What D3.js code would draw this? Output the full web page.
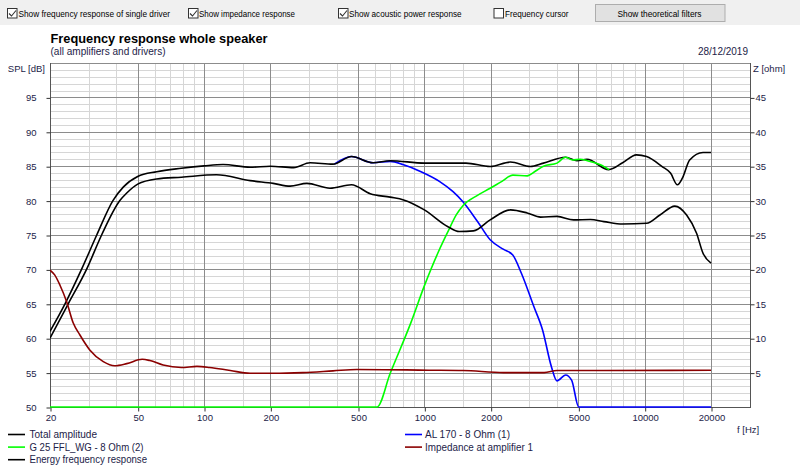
<!DOCTYPE html>
<html>
<head>
<meta charset="utf-8">
<script src="https://cdnjs.cloudflare.com/ajax/libs/d3/7.8.5/d3.min.js"></script>
<style>
  html, body { margin: 0; padding: 0; background: #ffffff; }
  svg { display: block; font-family: "Liberation Sans", Arial, sans-serif; }
</style>
</head>
<body>
<svg id="chart" width="800" height="468"></svg>
<script>
// ---------------- DATA ----------------
const xTickValues = [20, 50, 100, 200, 500, 1000, 2000, 5000, 10000, 20000];
const xMinorValues = [30, 40, 60, 70, 80, 90, 150, 300, 400, 600, 700, 800, 900, 1500, 3000, 4000, 6000, 7000, 8000, 9000, 15000];
const splTickValues = [50, 55, 60, 65, 70, 75, 80, 85, 90, 95];
const zTickValues = [5, 10, 15, 20, 25, 30, 35, 40, 45];

// Total amplitude (dB)
const totalFreq = [20, 23.4, 27.8, 32.6, 38.6, 43.1, 50, 61, 79, 100, 122, 162, 200, 255, 303, 385, 467, 585, 700, 1000, 1545, 1990, 2460, 3030, 3470, 4375, 4930, 5470, 6870, 7940, 9180, 10200, 12000, 13100, 14080, 14850, 16000, 18400, 20000];
const totalSpl  = [61.0, 65.0, 70.0, 75.0, 80.0, 82.0, 83.5, 84.2, 84.7, 85.05, 85.25, 84.85, 85.0, 84.8, 85.5, 85.3, 86.4, 85.5, 85.8, 85.45, 85.45, 84.95, 85.6, 84.95, 85.45, 86.3, 85.8, 86.0, 84.5, 85.5, 86.65, 86.4, 84.95, 84.0, 82.3, 83.3, 85.9, 87.0, 87.0];

// G 25 FFL_WG - 8 Ohm (2) (dB)
const tweeterFreq = [20, 610, 700, 870, 1000, 1160, 1280, 1400, 1500, 1750, 1990, 2250, 2520, 2930, 3200, 3470, 4000, 4375, 4700, 5100, 5500, 6300, 6900];
const tweeterSpl  = [50, 50, 54.9, 62.3, 67.6, 72.6, 75.5, 78.0, 79.3, 80.8, 81.8, 82.8, 83.7, 83.6, 84.3, 85.0, 85.45, 86.3, 85.9, 86.0, 85.8, 85.2, 84.5];

// Energy frequency response (dB)
const energyFreq = [20, 24.2, 29.3, 34.3, 41.5, 44.6, 50, 61, 79, 114, 162, 206, 246, 293, 373, 467, 568, 700, 805, 1000, 1280, 1440, 1670, 1990, 2460, 2930, 3370, 4000, 4760, 5670, 6530, 7940, 10200, 11730, 13700, 15500, 17200, 18400, 20000];
const energySpl  = [60.0, 65.0, 70.0, 75.0, 80.0, 81.1, 82.4, 83.15, 83.4, 83.75, 82.9, 82.5, 82.1, 82.5, 81.8, 82.3, 81.0, 80.5, 80.1, 78.65, 76.2, 75.5, 75.6, 77.2, 78.65, 78.2, 77.6, 77.7, 77.2, 77.25, 76.95, 76.6, 76.7, 77.9, 79.2, 77.9, 75.25, 72.35, 70.9];

// AL 170 - 8 Ohm (1) (dB)
const wooferFreq = [390, 467, 585, 700, 805, 966, 1170, 1350, 1500, 1740, 1990, 2290, 2520, 2760, 3140, 3440, 3770, 4000, 4380, 4660, 5020, 20000];
const wooferSpl  = [85.3, 86.4, 85.5, 85.7, 85.2, 84.2, 82.8, 81.3, 79.8, 77.0, 74.3, 72.9, 72.1, 69.4, 64.6, 61.2, 55.9, 53.8, 54.65, 53.9, 50.0, 50.0];

// Impedance at amplifier 1 (ohm)
const impFreq = [20, 21, 22.2, 23.8, 25.5, 27.3, 30.3, 34.9, 39.3, 44.6, 52.4, 56.8, 65.2, 78.9, 92.9, 106, 131.7, 162, 206, 281, 385, 494, 1050, 1500, 2290, 3500, 4000, 6500, 20000];
const impOhm  = [19.9, 19.2, 17.7, 15.3, 12.2, 10.5, 8.3, 6.6, 6.0, 6.3, 6.93, 6.75, 6.1, 5.75, 5.9, 5.75, 5.3, 4.9, 4.9, 5.0, 5.25, 5.45, 5.35, 5.3, 5.0, 5.0, 5.3, 5.3, 5.35];

const legendLeft = ["Total amplitude", "G 25 FFL_WG - 8 Ohm (2)", "Energy frequency response"];
const legendRight = ["AL 170 - 8 Ohm (1)", "Impedance at amplifier 1"];
const toolbarChecks = [
  {label: "Show frequency response of single driver", checked: true},
  {label: "Show impedance response", checked: true},
  {label: "Show acoustic power response", checked: true},
  {label: "Frequency cursor", checked: false}
];

// ---------------- LAYOUT ----------------
const svg = d3.select("#chart");
const L = 50, R = 750, T = 63, B = 407;
const x = d3.scaleLog().domain([20, 20000]).range([50, 711]);
const ySpl = d3.scaleLinear().domain([50, 100]).range([B, T]);
const yZ = d3.scaleLinear().domain([0, 50]).range([B, T]);

const textColor = "#1c1c48";

// Toolbar
svg.append("rect").attr("x", 0).attr("y", 0).attr("width", 800).attr("height", 25).attr("fill", "#f0f0f0");
const checkPos = [7, 188, 338, 493.5];
const labelPos = [{x: 18.5, w: 151.5}, {x: 199, w: 96}, {x: 349, w: 112.5}, {x: 505, w: 63.5}];
toolbarChecks.forEach((c, i) => {
  const g = svg.append("g");
  g.append("rect").attr("x", checkPos[i] + 0.5).attr("y", 8.5).attr("width", 9.5).attr("height", 9.5)
    .attr("fill", "#ffffff").attr("stroke", "#333333").attr("stroke-width", 1);
  if (c.checked) {
    g.append("path").attr("d", `M${checkPos[i] + 2},${13.5} L${checkPos[i] + 4.5},${16} L${checkPos[i] + 9},${10.5}`)
      .attr("fill", "none").attr("stroke", "#333333").attr("stroke-width", 1.1);
  }
  g.append("text").attr("x", labelPos[i].x).attr("y", 16.5).attr("font-size", "9.5px").attr("fill", "#000")
    .attr("textLength", labelPos[i].w).attr("lengthAdjust", "spacingAndGlyphs").text(c.label);
});
svg.append("rect").attr("x", 595.5).attr("y", 4.5).attr("width", 129.5).attr("height", 17)
  .attr("fill", "#e1e1e1").attr("stroke", "#adadad");
svg.append("text").attr("x", 617.5).attr("y", 16.5).attr("font-size", "9.5px").attr("fill", "#000")
  .attr("textLength", 84).attr("lengthAdjust", "spacingAndGlyphs").text("Show theoretical filters");

// Titles
svg.append("text").attr("x", 50.5).attr("y", 42.5).attr("font-size", "13px").attr("font-weight", "bold")
  .attr("fill", "#000").attr("textLength", 217).attr("lengthAdjust", "spacingAndGlyphs").text("Frequency response whole speaker");
svg.append("text").attr("x", 50.5).attr("y", 55).attr("font-size", "10px").attr("fill", textColor)
  .attr("textLength", 115).attr("lengthAdjust", "spacingAndGlyphs").text("(all amplifiers and drivers)");
svg.append("text").attr("x", 748).attr("y", 55).attr("font-size", "10px").attr("fill", textColor)
  .attr("text-anchor", "end").text("28/12/2019");

// Grid
const grid = svg.append("g");
for (let v = 51; v < 100; v++) {
  if (v % 5 === 0) continue;
  grid.append("line").attr("x1", L).attr("x2", R).attr("y1", Math.round(ySpl(v)) + 0.5).attr("y2", Math.round(ySpl(v)) + 0.5)
    .attr("stroke", "#d6d6d6").attr("stroke-width", 1);
}
xMinorValues.forEach(f => {
  const px = Math.round(x(f)) + 0.5;
  grid.append("line").attr("x1", px).attr("x2", px).attr("y1", T).attr("y2", B).attr("stroke", "#d6d6d6");
});
splTickValues.filter(v => v > 50).concat([100]).forEach(v => {
  const py = Math.round(ySpl(v)) + 0.5;
  grid.append("line").attr("x1", L).attr("x2", R).attr("y1", py).attr("y2", py).attr("stroke", "#8c8c8c");
});
xTickValues.filter(f => f > 20).forEach(f => {
  const px = Math.round(x(f)) + 0.5;
  grid.append("line").attr("x1", px).attr("x2", px).attr("y1", T).attr("y2", B).attr("stroke", "#8c8c8c");
});
// frame
grid.append("line").attr("x1", L + 0.5).attr("x2", L + 0.5).attr("y1", T).attr("y2", B + 1).attr("stroke", "#555");
grid.append("line").attr("x1", R + 0.5).attr("x2", R + 0.5).attr("y1", T).attr("y2", B + 1).attr("stroke", "#555");
grid.append("line").attr("x1", L).attr("x2", R + 1).attr("y1", B + 0.5).attr("y2", B + 0.5).attr("stroke", "#555");

// Axes
const axisLeft = d3.axisLeft(ySpl).tickValues(splTickValues).tickSize(4).tickPadding(10).tickFormat(d3.format("d"));
const gl = svg.append("g").attr("transform", `translate(${L + 0.5},0.5)`).call(axisLeft);
const axisRight = d3.axisRight(yZ).tickValues(zTickValues).tickSize(4).tickPadding(1).tickFormat(d3.format("d"));
const gr = svg.append("g").attr("transform", `translate(${R + 0.5},0.5)`).call(axisRight);
const axisBottom = d3.axisBottom(x).tickValues(xTickValues).tickSize(4).tickPadding(3).tickFormat(d3.format("d"));
const gb = svg.append("g").attr("transform", `translate(0.5,${B + 0.5})`).call(axisBottom);
[gl, gr, gb].forEach(g => {
  g.select(".domain").remove();
  g.selectAll(".tick line").attr("stroke", "#333");
  g.selectAll(".tick text").attr("font-size", "9.5px").attr("fill", textColor)
    .attr("font-family", "'Liberation Sans', Arial, sans-serif");
});

svg.append("text").attr("x", 45).attr("y", 72).attr("text-anchor", "end").attr("font-size", "9.5px").attr("fill", textColor).text("SPL [dB]");
svg.append("text").attr("x", 753).attr("y", 72).attr("font-size", "9.5px").attr("fill", textColor).text("Z [ohm]");
svg.append("text").attr("x", 737).attr("y", 433).attr("font-size", "9.5px").attr("fill", textColor).text("f [Hz]");

// Curves
svg.append("clipPath").attr("id", "plotclip").append("rect").attr("x", L).attr("y", T - 2).attr("width", R - L).attr("height", B - T + 4);
const curves = svg.append("g").attr("clip-path", "url(#plotclip)");
function drawSeries(freqs, vals, yScale, color, w) {
  const pts = freqs.map((f, i) => [f, vals[i]]);
  const line = d3.line().x(d => x(d[0])).y(d => yScale(d[1])).curve(d3.curveMonotoneX);
  curves.append("path").attr("d", line(pts)).attr("fill", "none").attr("stroke", color)
    .attr("stroke-width", w).attr("stroke-linejoin", "round");
}
drawSeries(wooferFreq, wooferSpl, ySpl, "#0000ff", 1.6);
drawSeries(totalFreq, totalSpl, ySpl, "#000000", 1.6);
drawSeries(tweeterFreq, tweeterSpl, ySpl, "#00ff00", 1.6);
drawSeries(energyFreq, energySpl, ySpl, "#000000", 1.6);
drawSeries(impFreq, impOhm, yZ, "#8b0000", 1.6);

// Legend
const legColors = ["#000000", "#00ff00", "#000000"];
const legW = [67.5, 114, 117.5];
legendLeft.forEach((t, i) => {
  const yy = 434.5 + i * 12.6;
  svg.append("line").attr("x1", 8).attr("x2", 25).attr("y1", yy).attr("y2", yy).attr("stroke", legColors[i]).attr("stroke-width", 1.6);
  svg.append("text").attr("x", 29.5).attr("y", yy + 3.5).attr("font-size", "10px").attr("fill", textColor)
    .attr("textLength", legW[i]).attr("lengthAdjust", "spacingAndGlyphs").text(t);
});
const legColorsR = ["#0000ff", "#8b0000"];
const legWR = [85, 108];
legendRight.forEach((t, i) => {
  const yy = 434.5 + i * 12.6;
  svg.append("line").attr("x1", 405).attr("x2", 422).attr("y1", yy).attr("y2", yy).attr("stroke", legColorsR[i]).attr("stroke-width", 1.6);
  svg.append("text").attr("x", 425).attr("y", yy + 3.5).attr("font-size", "10px").attr("fill", textColor)
    .attr("textLength", legWR[i]).attr("lengthAdjust", "spacingAndGlyphs").text(t);
});
</script>
</body>
</html>
